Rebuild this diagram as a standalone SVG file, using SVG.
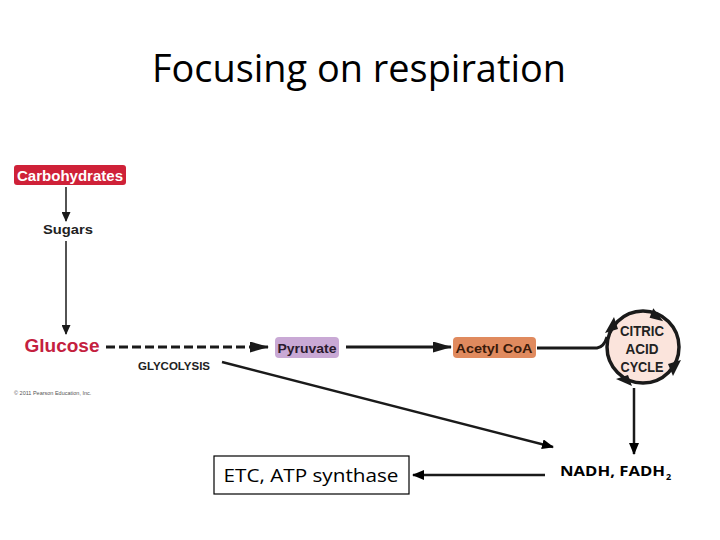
<svg xmlns="http://www.w3.org/2000/svg" width="720" height="540" viewBox="0 0 720 540">
<defs>
<style>
.lbl{font-family:"Liberation Sans",Arial,sans-serif;font-weight:bold}
.ln{stroke:#1a1a1a;fill:none}
</style>
<marker id="ah" markerWidth="10" markerHeight="9" refX="9" refY="4.5" orient="auto" markerUnits="userSpaceOnUse">
<path d="M0,0 L10,4.5 L0,9 Z" fill="#1a1a1a"/>
</marker>
<marker id="ahb" markerWidth="19" markerHeight="11" refX="18" refY="5.5" orient="auto" markerUnits="userSpaceOnUse">
<path d="M0,0 L19,5.5 L0,11 Z" fill="#1a1a1a"/>
</marker>
<marker id="ahk" markerWidth="12" markerHeight="10" refX="11" refY="5" orient="auto" markerUnits="userSpaceOnUse">
<path d="M0,0 L12,5 L0,10 Z" fill="#000"/>
</marker>
</defs>
<rect width="720" height="540" fill="#fff"/>
<text x="359" y="82" text-anchor="middle" font-family="'Open Sans','Liberation Sans',sans-serif" font-size="38" textLength="414" lengthAdjust="spacingAndGlyphs" fill="#000">Focusing on respiration</text>

<g id="connectors">
<line class="ln" x1="66" y1="187" x2="66" y2="221" stroke-width="1.5" marker-end="url(#ah)"/>
<line class="ln" x1="66" y1="241" x2="66" y2="334" stroke-width="1.5" marker-end="url(#ah)"/>
<line class="ln" x1="106" y1="347" x2="268" y2="347" stroke-width="3" stroke-dasharray="9,4" marker-end="url(#ahb)"/>
<line class="ln" x1="346" y1="347" x2="451" y2="347" stroke-width="3" marker-end="url(#ahb)"/>
<path class="ln" d="M537,348 L597,348 Q604,347 607,337" stroke-width="3"/>
<line class="ln" x1="222" y1="362" x2="553" y2="447" stroke="#000" stroke-width="2.5" marker-end="url(#ahk)"/>
<line class="ln" x1="634" y1="388" x2="634" y2="454" stroke="#000" stroke-width="2.5" marker-end="url(#ahk)"/>
<line class="ln" x1="545" y1="475" x2="413" y2="475" stroke="#000" stroke-width="2.5" marker-end="url(#ahk)"/>
</g>

<g id="carbohydrates">
<rect x="14" y="165" width="112" height="20" rx="3" fill="#cf2138"/>
<text class="lbl" x="70" y="180.5" text-anchor="middle" font-size="14" textLength="106" lengthAdjust="spacingAndGlyphs" fill="#fff">Carbohydrates</text>
</g>
<g id="sugars">
<text class="lbl" x="68" y="234" text-anchor="middle" font-size="13.5" textLength="50" lengthAdjust="spacingAndGlyphs" fill="#222">Sugars</text>
</g>
<g id="glucose">
<text class="lbl" x="62" y="352" text-anchor="middle" font-size="17.5" textLength="75" lengthAdjust="spacingAndGlyphs" fill="#c4203e">Glucose</text>
</g>
<g id="glycolysis">
<text class="lbl" x="174" y="370" text-anchor="middle" font-size="11.5" textLength="72" lengthAdjust="spacingAndGlyphs" fill="#222">GLYCOLYSIS</text>
</g>
<g id="copyright">
<text x="14" y="395" font-family="'Liberation Sans',sans-serif" font-size="5.5" fill="#555">© 2011 Pearson Education, Inc.</text>
</g>
<g id="pyruvate">
<rect x="275" y="337" width="64" height="21" rx="4" fill="#c9a9d5"/>
<text class="lbl" x="307" y="352.5" text-anchor="middle" font-size="13.5" textLength="59" lengthAdjust="spacingAndGlyphs" fill="#2a1a2e">Pyruvate</text>
</g>
<g id="acetylcoa">
<rect x="453" y="337" width="83" height="21" rx="4" fill="#e08a5e"/>
<text class="lbl" x="494" y="352.5" text-anchor="middle" font-size="13.5" textLength="77" lengthAdjust="spacingAndGlyphs" fill="#3a1a0a">Acetyl CoA</text>
</g>
<g id="citric-acid-cycle">
<circle cx="643" cy="347" r="36" fill="#fbe4dc" stroke="#1a1a1a" stroke-width="3.5"/>
<path d="M652,309 L664,320 L650,319 Z" fill="#1a1a1a" transform="rotate(10 657 316)"/>
<path d="M681,360 L673,376 L668,364 Z" fill="#1a1a1a"/>
<path d="M632,386 L616,379 L628,375 Z" fill="#1a1a1a"/>
<path d="M605,333 L614,317 L618,329 Z" fill="#1a1a1a"/>
<text class="lbl" x="642" y="336" text-anchor="middle" font-size="14" textLength="44" lengthAdjust="spacingAndGlyphs" fill="#222">CITRIC</text>
<text class="lbl" x="642" y="354" text-anchor="middle" font-size="14" textLength="33" lengthAdjust="spacingAndGlyphs" fill="#222">ACID</text>
<text class="lbl" x="642" y="372" text-anchor="middle" font-size="14" textLength="43" lengthAdjust="spacingAndGlyphs" fill="#222">CYCLE</text>
</g>
<g id="nadh">
<text x="560" y="476" font-family="'Open Sans','Liberation Sans',sans-serif" font-weight="bold" font-size="15" textLength="105" lengthAdjust="spacingAndGlyphs" fill="#000">NADH, FADH</text>
<text x="666" y="480" font-family="'Open Sans','Liberation Sans',sans-serif" font-weight="bold" font-size="9" fill="#000">2</text>
</g>
<g id="etc">
<rect x="214" y="456" width="195" height="38" fill="#fff" stroke="#000" stroke-width="1.2"/>
<text x="311" y="482" text-anchor="middle" font-family="'Open Sans','Liberation Sans',sans-serif" font-size="19" textLength="175" lengthAdjust="spacingAndGlyphs" fill="#000">ETC, ATP synthase</text>
</g>
</svg>
